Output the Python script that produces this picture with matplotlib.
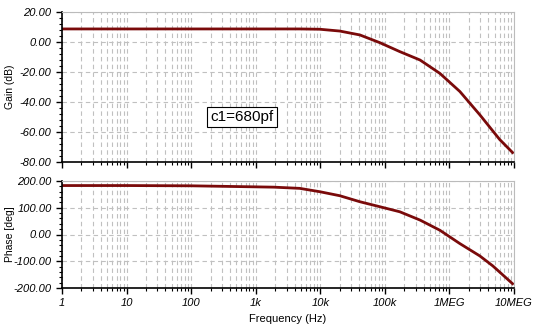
import numpy as np
import matplotlib
matplotlib.use("Agg")
import matplotlib.pyplot as plt
from matplotlib.ticker import FixedLocator, AutoMinorLocator, LogLocator, NullFormatter

plt.rcParams['font.family'] = ['Liberation Sans', 'DejaVu Sans']

# Gain data (Hz, dB)
gain_freq = [1, 10, 100, 1e3, 4.8e3, 9.8e3, 2.0e4, 4.1e4, 8.3e4, 1.7e5, 3.5e5,
             7.1e5, 1.45e6, 2.95e6, 6.0e6, 9.5e6]
gain_db   = [8.7, 8.7, 8.7, 8.7, 8.7, 8.5, 7.3, 4.7, -0.4, -6.4, -12,
             -20.9, -33, -48.5, -65, -73.7]

# Phase data (Hz, deg)
phase_freq = [1, 10, 100, 1.9e3, 4.8e3, 9.8e3, 2.0e4, 4.1e4, 8.3e4, 1.7e5, 3.5e5,
              7.1e5, 1.45e6, 2.95e6, 4.7e6, 9.5e6]
phase_deg  = [183, 183, 182, 177, 172.5, 160, 145, 122.5, 104, 85, 54,
              16, -34, -80, -117.5, -184]

xticks = [1, 10, 100, 1e3, 1e4, 1e5, 1e6, 1e7]
xticklabels = ['1', '10', '100', '1k', '10k', '100k', '1MEG', '10MEG']
gain_ticks = [20, 0, -20, -40, -60, -80]
phase_ticks = [200, 100, 0, -100, -200]

line_color = '#7a0a0a'
grid_color = '#c0c0c0'

fig = plt.figure(figsize=(5.46, 3.35), dpi=100)
ax1 = fig.add_axes([0.1136, 0.5164, 0.8278, 0.4478])
ax2 = fig.add_axes([0.1136, 0.1403, 0.8278, 0.3194])

def style(ax, yticks, ylim):
    ax.set_xscale('log')
    ax.set_xlim(1, 1e7)
    ax.set_ylim(*ylim)
    ax.xaxis.set_major_locator(FixedLocator(xticks))
    ax.xaxis.set_minor_locator(LogLocator(base=10, subs=np.arange(2, 10), numticks=20))
    ax.xaxis.set_minor_formatter(NullFormatter())
    ax.yaxis.set_major_locator(FixedLocator(yticks))
    ax.yaxis.set_minor_locator(AutoMinorLocator(5))
    ax.grid(True, which='major', axis='both', linestyle=(0, (4, 3)), color=grid_color, linewidth=0.8)
    ax.grid(True, which='minor', axis='x', linestyle=(0, (4, 3)), color=grid_color, linewidth=0.8)
    for s in ['top', 'right']:
        ax.spines[s].set_color('#bbbbbb')
    for s in ['left', 'bottom']:
        ax.spines[s].set_color('black')
        ax.spines[s].set_linewidth(1.2)
    ax.tick_params(which='major', direction='out', length=4, width=1, labelsize=8)
    ax.tick_params(which='minor', direction='out', length=2, width=0.8)
    ax.tick_params(top=False, right=False, which='both')

ax1.plot(gain_freq, gain_db, color=line_color, linewidth=2)
style(ax1, gain_ticks, (-80, 20))
ax1.set_yticklabels(['%.2f' % v for v in gain_ticks], fontstyle='italic')
ax1.set_xticklabels([])
ax1.set_ylabel('Gain (dB)', fontsize=7.5)
ax1.yaxis.set_label_coords(-0.105, 0.5)
ax1.text(615, -50, 'c1=680pf', fontsize=11, ha='center', va='center',
         bbox=dict(boxstyle='square,pad=0.2', facecolor='white', edgecolor='black', linewidth=0.8))

ax2.plot(phase_freq, phase_deg, color=line_color, linewidth=2)
style(ax2, phase_ticks, (-200, 200))
ax2.set_yticklabels(['%.2f' % v for v in phase_ticks], fontstyle='italic')
ax2.set_xticklabels(xticklabels, fontstyle='italic', fontsize=8)
ax2.set_ylabel('Phase [deg]', fontsize=7.5)
ax2.yaxis.set_label_coords(-0.105, 0.5)
ax2.set_xlabel('Frequency (Hz)', fontsize=8)

fig.savefig('out.png', dpi=100)
